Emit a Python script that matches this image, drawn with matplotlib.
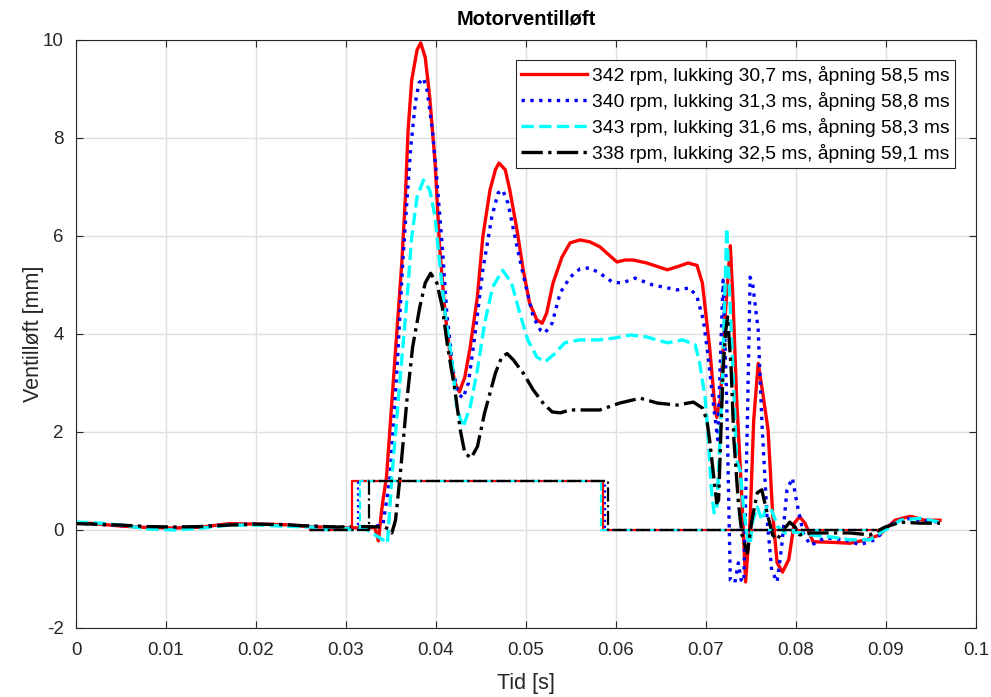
import matplotlib
matplotlib.use("Agg")
import matplotlib.pyplot as plt
import numpy as np

plt.rcParams['font.family'] = ['Liberation Sans', 'DejaVu Sans']

# ---- valve lift traces: time in ms, lift in mm ----
labels = [
    "342 rpm, lukking 30,7 ms, åpning 58,5 ms",
    "340 rpm, lukking 31,3 ms, åpning 58,8 ms",
    "343 rpm, lukking 31,6 ms, åpning 58,3 ms",
    "338 rpm, lukking 32,5 ms, åpning 59,1 ms",
]

red_t = [0, 2, 5, 8, 11, 14, 17, 20, 23, 26, 29, 32, 33.2, 33.6, 33.9, 34.1, 34.5, 35.4, 36.2, 36.6, 36.9,
         37.3, 37.9, 38.3, 38.8, 39.3, 39.9, 40.4, 41.0, 41.6, 42.1, 42.6, 43.2, 43.8, 44.6, 45.2, 46.0,
         46.6, 47.0, 47.7, 48.2, 49.0, 49.7, 50.4, 51.2, 51.8, 52.3, 53.0, 54.0, 54.9, 56.0, 57.1, 58.2,
         59.3, 60.1, 61.0, 61.9, 63.4, 65.7, 67.1, 68.0, 69.0, 69.6, 70.4, 71.0, 71.2, 71.6, 72.1, 72.7,
         73.0, 73.4, 74.0, 74.4, 74.9, 75.3, 75.8, 76.3, 76.9, 77.4, 77.9, 78.5, 79.2, 79.8, 80.4, 81.0,
         81.9, 83.8, 86.0, 87.8, 89.3, 91.0, 92.7, 94.3, 96.0]
red_y = [0.15, 0.13, 0.08, 0.05, 0.04, 0.06, 0.13, 0.12, 0.11, 0.07, 0.05, 0.04, 0.05, -0.22, 0.3, 0.6,
         1.08, 3.4, 5.45, 6.8, 8.16, 9.18, 9.8, 9.94, 9.65, 8.84, 7.49, 5.78, 4.43, 3.53, 3.0, 2.82, 3.12,
         3.73, 4.76, 5.98, 6.94, 7.35, 7.49, 7.35, 6.94, 6.12, 5.3, 4.63, 4.29, 4.22, 4.43, 5.04, 5.57,
         5.86, 5.92, 5.88, 5.78, 5.6, 5.47, 5.51, 5.51, 5.45, 5.31, 5.39, 5.45, 5.4, 5.04, 3.73, 2.5, 2.3,
         2.65, 4.3, 5.8, 4.7, 2.7, 0.6, -1.06, 0.2, 2.24, 3.4, 2.8, 2.04, 0.35, -0.67, -0.86, -0.6, 0.14,
         0.27, 0.14, -0.24, -0.25, -0.27, -0.2, -0.1, 0.2, 0.28, 0.2, 0.2]

blue_t = [0, 2, 5, 8, 11, 14, 17, 20, 23, 26, 29, 32, 34.1, 34.9, 35.7, 36.3, 36.8, 37.2, 37.7, 38.1, 38.6,
          39.0, 39.6, 40.1, 40.7, 41.2, 41.9, 42.4, 43.0, 43.6, 44.3, 45.2, 46.2, 46.9, 47.4, 48.0, 49.0,
          49.9, 50.8, 51.6, 52.1, 52.9, 53.8, 54.9, 56.0, 57.1, 58.2, 59.6, 60.7, 62.1, 64.1, 66.8, 68.2,
          69.0, 69.7, 70.2, 70.8, 71.3, 71.9, 72.3, 72.7, 73.2, 73.6, 73.9, 74.2, 74.6, 74.9, 75.2, 75.8,
          76.2, 76.8, 77.3, 77.9, 78.4, 79.0, 79.6, 80.1, 80.8, 81.6, 82.1, 83.2, 85.4, 87.1, 88.8, 90.4,
          92.1, 93.8, 96.0]
blue_y = [0.14, 0.12, 0.09, 0.06, 0.05, 0.07, 0.11, 0.12, 0.1, 0.08, 0.06, 0.05, 0.1, 1.08, 3.4, 5.45, 6.8,
          7.82, 8.71, 9.12, 9.22, 8.98, 8.16, 7.14, 5.78, 4.43, 3.27, 2.8, 2.69, 3.0, 3.94, 5.3, 6.39, 6.88,
          6.94, 6.67, 5.78, 5.04, 4.35, 4.08, 4.02, 4.22, 4.84, 5.16, 5.33, 5.35, 5.24, 5.06, 5.04, 5.14,
          5.0, 4.9, 4.94, 4.76, 4.29, 3.6, 2.6, 1.84, 5.1, 2.65, -1.02, -1.08, -0.67, -1.02, -1.06, 2.24,
          5.16, 5.0, 4.08, 2.24, 0.2, -0.82, -1.06, -0.35, 0.82, 1.06, 0.55, -0.06, -0.31, -0.27, -0.16,
          -0.2, -0.3, -0.2, 0.1, 0.24, 0.2, 0.16]

cyan_t = [0, 2, 5, 8, 11, 14, 17, 20, 23, 26, 29, 32, 34.1, 34.6, 35.1, 36.0, 36.8, 37.3, 37.9, 38.6, 39.3,
          39.9, 40.4, 41.0, 41.8, 42.3, 43.0, 43.8, 44.6, 45.4, 46.3, 47.4, 48.4, 49.3, 50.2, 51.2, 52.1,
          53.2, 54.3, 56.0, 58.2, 59.9, 61.6, 63.4, 65.7, 67.4, 68.8, 69.3, 69.9, 70.2, 70.6, 70.9, 71.2,
          71.8, 72.3, 72.9, 73.4, 73.8, 74.2, 74.6, 74.9, 75.2, 75.7, 76.2, 76.8, 77.3, 78.0, 78.8, 79.9,
          81.6, 83.8, 86.0, 88.2, 89.9, 91.6, 93.8, 96.0]
cyan_y = [0.16, 0.15, 0.1, 0.02, 0.0, 0.04, 0.1, 0.1, 0.08, 0.06, 0.03, 0.04, -0.2, -0.27, 1.08, 3.06, 4.76,
          5.98, 6.8, 7.14, 6.94, 6.39, 5.45, 4.43, 3.4, 2.51, 2.1, 2.51, 3.27, 4.22, 4.96, 5.3, 5.04, 4.43,
          3.88, 3.53, 3.43, 3.6, 3.82, 3.88, 3.88, 3.92, 3.98, 3.94, 3.82, 3.88, 3.78, 3.4, 2.7, 2.04, 0.82,
          0.35, 0.4, 2.9, 6.16, 3.67, 1.43, 1.2, 0.4, -0.15, -0.3, 0.2, 0.47, 0.2, 0.5, 0.4, 0.06, -0.06,
          -0.04, -0.1, -0.14, -0.2, -0.2, 0.0, 0.2, 0.24, 0.16]

black_t = [0, 2, 5, 8, 11, 14, 17, 20, 23, 26, 29, 32, 34.3, 34.7, 35.1, 35.5, 36.0, 36.8, 37.4, 38.2, 38.8,
           39.4, 40.1, 40.7, 41.3, 42.1, 42.7, 43.2, 43.9, 44.6, 45.4, 46.6, 47.3, 47.9, 48.6, 49.7, 50.8,
           51.9, 52.9, 53.8, 54.9, 56.0, 58.2, 60.4, 62.7, 64.6, 66.8, 68.6, 69.6, 70.1, 70.4, 70.9, 71.2,
           71.4, 71.7, 71.9, 72.2, 72.4, 72.8, 73.1, 73.6, 74.0, 74.6, 75.1, 75.7, 76.2, 76.6, 76.9, 77.4,
           77.9, 78.6, 79.3, 79.9, 80.4, 81.6, 83.8, 86.0, 88.2, 89.9, 91.6, 93.8, 96.0]
black_y = [0.13, 0.12, 0.1, 0.07, 0.06, 0.07, 0.1, 0.12, 0.11, 0.08, 0.06, 0.07, 0.06, 0.02, -0.06, 0.2,
           1.08, 2.71, 3.73, 4.55, 5.04, 5.24, 5.04, 4.55, 3.73, 2.86, 2.04, 1.57, 1.47, 1.7, 2.39, 3.2,
           3.53, 3.6, 3.47, 3.2, 2.86, 2.59, 2.41, 2.39, 2.45, 2.45, 2.45, 2.59, 2.69, 2.59, 2.55, 2.61,
           2.49, 2.24, 1.84, 1.02, 0.55, 0.61, 2.24, 3.27, 4.08, 4.35, 3.27, 1.84, 0.55, -0.1, -0.47, 0.2,
           0.76, 0.82, 0.5, 0.27, -0.1, -0.2, 0.0, 0.16, 0.06, -0.1, -0.06, -0.06, -0.06, -0.1, 0.06, 0.16,
           0.14, 0.14]

# ---- valve control signal: closing / opening instants in ms ----
lukking = [30.7, 31.3, 31.6, 32.5]
apning = [58.5, 58.8, 58.3, 59.1]
signal_start = 26.0
signal_end = 89.0

colors = ['#ff0000', '#0000ff', '#00ffff', '#000000']
styles = ['-', ':', '--', '-.']
series_t = [red_t, blue_t, cyan_t, black_t]
series_y = [red_y, blue_y, cyan_y, black_y]

fig = plt.figure(figsize=(9.91, 6.97), dpi=100)
ax = fig.add_axes([76 / 991, 69 / 697, 900 / 991, 588 / 697])

axis_col = '#262626'
handles = []
for t, y, c, ls, lab in zip(series_t, series_y, colors, styles, labels):
    h, = ax.plot(np.array(t) / 1000.0, y, color=c, linestyle=ls, linewidth=2.4,
                 label=lab, solid_joinstyle='round', dash_joinstyle='round')
    handles.append(h)

for tc, to, c, ls in zip(lukking, apning, colors, styles):
    st = np.array([signal_start, tc, tc, to, to, signal_end]) / 1000.0
    sy = [0, 0, 1, 1, 0, 0]
    ax.plot(st, sy, color=c, linestyle=ls, linewidth=1.6)

ax.set_xlim(0, 0.1)
ax.set_ylim(-2, 10)
ax.set_xticks(np.arange(0, 0.1001, 0.01))
ax.set_xticklabels(['0', '0.01', '0.02', '0.03', '0.04', '0.05', '0.06', '0.07', '0.08', '0.09', '0.1'])
ax.set_yticks(np.arange(-2, 10.1, 2))
ax.set_yticklabels(['-2', '0', '2', '4', '6', '8', '10'])
ax.grid(True, color='#dfdfdf', linewidth=1.0)
ax.set_axisbelow(True)
ax.tick_params(direction='in', top=True, right=True, length=5, width=0.8,
               colors=axis_col, labelsize=13.5, labelcolor=axis_col)
ax.tick_params(axis='x', pad=10)
ax.tick_params(axis='y', pad=9)
for sp in ax.spines.values():
    sp.set_color(axis_col)
    sp.set_linewidth(0.8)

ax.set_title('Motorventilløft', fontsize=14.5, fontweight='bold', color='black', pad=11)
ax.set_xlabel('Tid [s]', fontsize=15.5, color=axis_col, labelpad=10)
ax.set_ylabel('Ventilløft [mm]', fontsize=15.5, color=axis_col, labelpad=-1)

leg = ax.legend(handles=handles, loc='upper right', bbox_to_anchor=(0.977, 0.966),
                borderaxespad=0, fontsize=13.9, handlelength=3.4, handletextpad=0.25,
                labelspacing=0.36, borderpad=0.3, fancybox=False, framealpha=1,
                edgecolor=axis_col)
leg.get_frame().set_linewidth(0.8)
for txt in leg.get_texts():
    txt.set_color('black')

fig.savefig('out.png', dpi=100)
